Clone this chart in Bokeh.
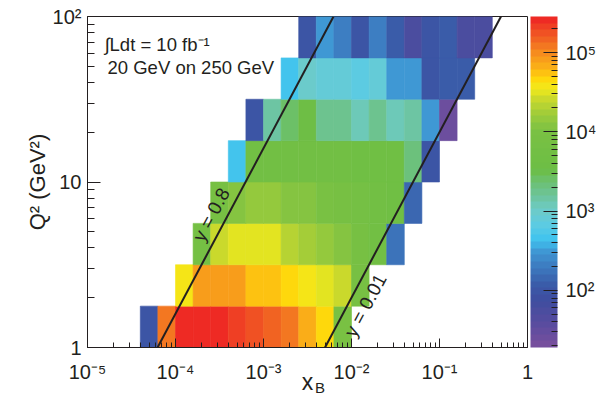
import math
import numpy as np
from bokeh.plotting import figure
from bokeh.models import (LogColorMapper, ColorBar, FixedTicker, Label, LogAxis,
                          ColumnDataSource, CustomJSTickFormatter)
from bokeh.embed import file_html
from bokeh.resources import INLINE
from bokeh.core.properties import value

# ---------------- data ----------------
# binning (decades)
x_bin_width = 0.2
q2_bin_width = 0.25
# log10(x) of the first filled bin in each Q2 row (rows from Q2=1 upward)
row_start_logx = [-4.4, -4.0, -3.8, -3.6, -3.4, -3.2, -2.8, -2.6]
row0_counts = [100, 1.2e5, 2.8e5, 2.7e5, 2.4e5, 2.1e5, 1.8e5, 1.5e5, 1.2e5, 7e4, 4.6e4, 1e4]
row1_counts = [3.6e4, 8e4, 8e4, 7.5e4, 6e4, 5.5e4, 4.6e4, 3.7e4, 3.2e4, 2.6e4, 8e3]
row2_counts = [7e3, 2.5e4, 3e4, 3e4, 3e4, 2.2e4, 1.8e4, 1.5e4, 1.3e4, 8e3, 6e3, 180]
row3_counts = [8e3, 1.2e4, 1.5e4, 1.4e4, 1.25e4, 1.15e4, 1e4, 8e3, 7e3, 6e3, 5e3, 150]
row4_counts = [450, 6e3, 6e3, 6e3, 6e3, 5.5e3, 5.5e3, 5e3, 5e3, 4.5e3, 2e3, 100]
row5_counts = [90, 1500, 2500, 4000, 1800, 1800, 1100, 1700, 1100, 1500, 300, 25]
row6_counts = [450, 900, 800, 800, 650, 800, 300, 300, 90, 110, 110]
row7_counts = [100, 300, 200, 100, 200, 130, 50, 95, 110, 50, 50]
rows = [row0_counts, row1_counts, row2_counts, row3_counts,
        row4_counts, row5_counts, row6_counts, row7_counts]

# kinematics: s = 4 * Ee * Ep
e_beam = 20.0
p_beam = 250.0
y_lines = [0.8, 0.01]
y_labels = ["y = 0.8", "y = 0.01"]

x_range = (1e-5, 1.0)
q2_range = (1.0, 100.0)
z_range = (19.0, 2.85e5)

x_major = [1e-5, 1e-4, 1e-3, 1e-2, 1e-1, 1.0]
q2_major = [1.0, 10.0, 100.0]
z_major = [1e2, 1e3, 1e4, 1e5]

# ---------------- palette (ROOT-like pretty palette) ----------------
anchor_t = [0.0, 0.066, 0.142, 0.187, 0.248, 0.293, 0.323, 0.369, 0.414, 0.459,
            0.505, 0.535, 0.656, 0.701, 0.746, 0.782, 0.813, 0.843, 0.882, 0.921, 0.964, 1.0]
anchor_hex = ["#7b4f9d", "#5b4c9f", "#3f4d9f", "#3a5aa8", "#3d7dc1", "#3f9ad5", "#3fc3ef",
              "#5ccbe3", "#6dcbc9", "#6dc49a", "#6cc06e", "#6cbe45", "#7ac143", "#9ccb3b",
              "#c5d72e", "#f2ea1b", "#ffd60a", "#fbb217", "#f7941d", "#f26b22", "#ef4524",
              "#ed1f24"]


def _rgb(h):
    return [int(h[i:i + 2], 16) for i in (1, 3, 5)]


anchor_rgb = np.array([_rgb(h) for h in anchor_hex], dtype=float)
palette = []
for i in range(50):
    t = (i + 0.5) / 50
    c = [np.interp(t, anchor_t, anchor_rgb[:, k]) for k in range(3)]
    palette.append("#%02x%02x%02x" % tuple(int(round(v)) for v in c))

# ---------------- geometry ----------------
W, H = 599, 399
ml, mr, mt, mb = 87, 69, 16, 52
fw, fh = W - ml - mr, H - mt - mb
px_per_dec_x = fw / math.log10(x_range[1] / x_range[0])
px_per_dec_y = fh / math.log10(q2_range[1] / q2_range[0])
INK = "#231f20"
FONT = "Liberation Sans"

# ---------------- histogram cells ----------------
left, right, bottom, top, cnt = [], [], [], [], []
for r, counts in enumerate(rows):
    for i, c in enumerate(counts):
        lx = row_start_logx[r] + i * x_bin_width
        left.append(10 ** lx)
        right.append(10 ** (lx + x_bin_width))
        bottom.append(10 ** (r * q2_bin_width))
        top.append(10 ** ((r + 1) * q2_bin_width))
        cnt.append(c)
src = ColumnDataSource(dict(left=left, right=right, bottom=bottom, top=top, n=cnt))

p = figure(width=W, height=H, x_axis_type="log", y_axis_type="log",
           x_range=x_range, y_range=q2_range, output_backend="svg",
           toolbar_location=None, min_border_left=ml, min_border_right=mr,
           min_border_top=mt, min_border_bottom=mb)
p.background_fill_color = "white"
p.border_fill_color = "white"
p.outline_line_color = INK
p.outline_line_width = 1
p.grid.visible = False

mapper = LogColorMapper(palette=palette, low=z_range[0], high=z_range[1])
p.quad(left="left", right="right", bottom="bottom", top="top", source=src,
       fill_color={"field": "n", "transform": mapper},
       line_color={"field": "n", "transform": mapper}, line_width=0.6)

# y lines: Q2 = y * s * x
s = 4 * e_beam * p_beam
for yv in y_lines:
    q2s = [q2_range[0], q2_range[1]]
    xs = [q / (yv * s) for q in q2s]
    p.line(xs, q2s, line_color=INK, line_width=2)

angle = math.atan2(px_per_dec_y, px_per_dec_x)
ux, uy = math.cos(angle), math.sin(angle)  # along the line (screen, y up)
nx, ny = -uy, ux                            # normal to upper-left


def place(yv, logq, n_off):
    lx = logq - math.log10(yv * s)
    lx += n_off * nx / px_per_dec_x
    lq = logq + n_off * ny / px_per_dec_y
    return 10 ** lx, 10 ** lq


lab_pos = [place(y_lines[0], 0.76, 15), place(y_lines[1], 0.30, -16)]
p.text(x=[a[0] for a in lab_pos], y=[a[1] for a in lab_pos], text=y_labels,
       angle=angle, text_align="center", text_baseline="middle",
       text_font=value(FONT), text_font_size="19px", text_color=INK)

# ---------------- axes ----------------
fmt = CustomJSTickFormatter(code="""
const e = Math.round(Math.log10(tick));
if (e == 0) return "1";
if (e == 1) return "10";
const sup = {"-": "\u207b", "0": "\u2070", "1": "\u00b9", "2": "\u00b2", "3": "\u00b3",
             "4": "\u2074", "5": "\u2075", "6": "\u2076"};
return "10" + String(e).split("").map(c => sup[c]).join("");
""")


def minors(lo_exp, hi_exp):
    return [m * 10.0 ** e for e in range(lo_exp, hi_exp) for m in range(2, 10)]


p.xaxis.ticker = FixedTicker(ticks=x_major, minor_ticks=minors(-5, 0))
p.yaxis.ticker = FixedTicker(ticks=q2_major, minor_ticks=minors(0, 2))
for ax in (p.xaxis, p.yaxis):
    ax.formatter = fmt
    ax.axis_line_color = INK
    ax.major_tick_line_color = INK
    ax.minor_tick_line_color = INK
    ax.major_tick_out = 0
    ax.minor_tick_out = 0
    ax.major_label_text_font = FONT
    ax.major_label_text_font_size = "20px"
    ax.major_label_text_color = INK
    ax.axis_label_text_font = FONT
    ax.axis_label_text_font_style = "normal"
    ax.axis_label_text_color = INK
p.xaxis.major_tick_in = 9
p.xaxis.minor_tick_in = 5
p.yaxis.major_tick_in = 13
p.yaxis.minor_tick_in = 7
p.xaxis.major_label_standoff = 13
p.yaxis.major_label_standoff = 6

p.yaxis.axis_label = "Q\u00b2 (GeV\u00b2)"
p.yaxis.axis_label_text_font_size = "22px"
p.yaxis.axis_label_standoff = 0

# x_B title: "x" as the axis label, subscript "B" on an extra label-only axis
p.xaxis.axis_label = "x"
p.xaxis.axis_label_text_font_size = "23px"
p.xaxis.axis_label_standoff = -17
sub_pos = 10 ** (math.log10(x_range[0]) + (321 - ml) / px_per_dec_x)
sub_axis = LogAxis(ticker=FixedTicker(ticks=[sub_pos], minor_ticks=[]),
                   formatter=CustomJSTickFormatter(code='return "B";'),
                   axis_line_color=None, major_tick_line_color=None,
                   minor_tick_line_color=None, major_label_standoff=-25,
                   major_label_text_font=FONT, major_label_text_font_size="15px",
                   major_label_text_color=INK)
p.add_layout(sub_axis, "below")

# luminosity / beam text
p.add_layout(Label(x=17, y=303, x_units="screen", y_units="screen",
                   text="\u222bLdt = 10 fb\u207b\u00b9", text_font=FONT,
                   text_font_size="18.5px", text_color=INK, text_baseline="alphabetic"))
p.add_layout(Label(x=20, y=280, x_units="screen", y_units="screen",
                   text="20 GeV on 250 GeV", text_font=FONT,
                   text_font_size="18.5px", text_color=INK, text_baseline="alphabetic"))

# ---------------- colour bar ----------------
cb = ColorBar(color_mapper=mapper,
              ticker=FixedTicker(ticks=z_major, minor_ticks=minors(1, 6)),
              formatter=fmt, width=27, height=fh, location=(3, 0),
              margin=0, padding=0, label_standoff=8,
              major_tick_in=14, major_tick_out=0, minor_tick_in=6, minor_tick_out=0,
              major_tick_line_color=INK, minor_tick_line_color=INK,
              bar_line_color=None, border_line_color=None,
              major_label_text_font=FONT,
              major_label_text_font_size="20px", major_label_text_color=INK)
p.add_layout(cb, "right")

open("out.html", "w").write(file_html(p, INLINE))
